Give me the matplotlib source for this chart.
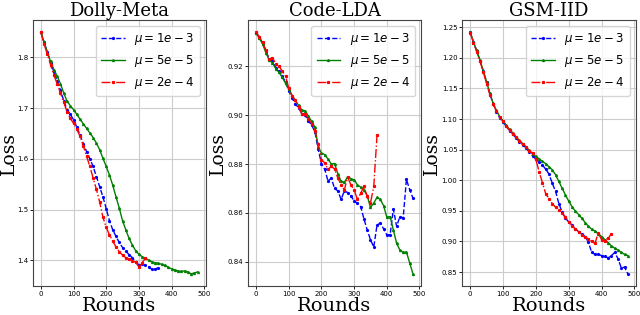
import numpy as np
import matplotlib
matplotlib.use("Agg")
import matplotlib.pyplot as plt

# ---------------- data ----------------
dolly_rounds_blue = list(range(0, 370, 10))
dolly_blue = [1.850, 1.830, 1.810, 1.790, 1.771, 1.754, 1.735, 1.715, 1.697, 1.688,
              1.677, 1.663, 1.647, 1.630, 1.614, 1.600, 1.585, 1.565, 1.545, 1.525,
              1.502, 1.478, 1.460, 1.447, 1.435, 1.425, 1.418, 1.411, 1.405, 1.397,
              1.391, 1.393, 1.390, 1.387, 1.382, 1.383, 1.385]
dolly_rounds_green = list(range(0, 490, 10))
dolly_green = [1.850, 1.830, 1.809, 1.792, 1.776, 1.763, 1.748, 1.730, 1.714, 1.705,
               1.697, 1.688, 1.678, 1.669, 1.660, 1.651, 1.642, 1.631, 1.618, 1.601,
               1.585, 1.568, 1.548, 1.525, 1.503, 1.478, 1.460, 1.443, 1.430, 1.419,
               1.412, 1.407, 1.404, 1.400, 1.397, 1.395, 1.394, 1.392, 1.390, 1.386,
               1.383, 1.381, 1.379, 1.378, 1.379, 1.377, 1.373, 1.375, 1.377]
dolly_rounds_red = list(range(0, 330, 10))
dolly_red = [1.850, 1.826, 1.806, 1.785, 1.765, 1.748, 1.730, 1.712, 1.693, 1.680,
             1.670, 1.658, 1.645, 1.625, 1.605, 1.585, 1.562, 1.540, 1.515, 1.485,
             1.465, 1.450, 1.438, 1.426, 1.417, 1.410, 1.405, 1.402, 1.399, 1.396,
             1.387, 1.395, 1.404]

code_rounds_blue = list(range(0, 490, 10))
code_blue = [0.9336, 0.9318, 0.9295, 0.9262, 0.9228, 0.9222, 0.9195, 0.9180, 0.9160, 0.9135,
             0.9100, 0.9070, 0.9045, 0.9030, 0.9005, 0.9000, 0.8975, 0.8960, 0.8930, 0.8860,
             0.8800, 0.8778, 0.8730, 0.8742, 0.8700, 0.8690, 0.8655, 0.8690, 0.8683, 0.8670,
             0.8648, 0.8640, 0.8625, 0.8575, 0.8530, 0.8490, 0.8460, 0.8550, 0.8558, 0.8535,
             0.8510, 0.8510, 0.8615, 0.8545, 0.8585, 0.8578, 0.8737, 0.8695, 0.8660]
code_rounds_green = list(range(0, 490, 10))
code_green = [0.9336, 0.9315, 0.9290, 0.9255, 0.9225, 0.9215, 0.9190, 0.9175, 0.9155, 0.9130,
              0.9105, 0.9080, 0.9060, 0.9040, 0.9020, 0.9018, 0.8995, 0.8975, 0.8950, 0.8870,
              0.8845, 0.8838, 0.8820, 0.8800, 0.8802, 0.8760, 0.8730, 0.8725, 0.8748, 0.8740,
              0.8735, 0.8715, 0.8705, 0.8694, 0.8670, 0.8622, 0.8640, 0.8664, 0.8655, 0.8630,
              0.8582, 0.8585, 0.8530, 0.8475, 0.8448, 0.8438, 0.8440, 0.8395, 0.8350]
code_rounds_red = list(range(0, 380, 10))
code_red = [0.9340, 0.9320, 0.9298, 0.9265, 0.9230, 0.9235, 0.9210, 0.9200, 0.9180, 0.9160,
            0.9110, 0.9080, 0.9060, 0.9035, 0.9005, 0.9005, 0.8985, 0.8965, 0.8935, 0.8880,
            0.8818, 0.8804, 0.8778, 0.8790, 0.8780, 0.8743, 0.8715, 0.8694, 0.8746, 0.8715,
            0.8694, 0.8655, 0.8680, 0.8708, 0.8667, 0.8640, 0.8708, 0.8918]

gsm_rounds_blue = list(range(0, 490, 10))
gsm_blue = [1.242, 1.226, 1.211, 1.195, 1.178, 1.160, 1.141, 1.125, 1.112, 1.102,
            1.095, 1.088, 1.081, 1.075, 1.069, 1.063, 1.058, 1.053, 1.046, 1.040,
            1.034, 1.030, 1.025, 1.018, 1.010, 0.995, 0.982, 0.962, 0.948, 0.938,
            0.932, 0.927, 0.921, 0.916, 0.912, 0.908, 0.899, 0.882, 0.879, 0.879,
            0.877, 0.876, 0.873, 0.877, 0.882, 0.872, 0.857, 0.858, 0.847]
gsm_rounds_green = list(range(0, 490, 10))
gsm_green = [1.242, 1.226, 1.212, 1.196, 1.179, 1.161, 1.142, 1.126, 1.114, 1.104,
             1.097, 1.090, 1.083, 1.077, 1.071, 1.065, 1.060, 1.055, 1.049, 1.043,
             1.039, 1.035, 1.031, 1.027, 1.022, 1.017, 1.009, 0.998, 0.987, 0.976,
             0.966, 0.957, 0.950, 0.944, 0.938, 0.931, 0.925, 0.920, 0.917, 0.913,
             0.908, 0.903, 0.898, 0.893, 0.889, 0.886, 0.882, 0.879, 0.877]
gsm_rounds_red = list(range(0, 440, 10))
gsm_red = [1.241, 1.225, 1.210, 1.194, 1.177, 1.158, 1.140, 1.124, 1.113, 1.103,
           1.096, 1.089, 1.082, 1.076, 1.070, 1.064, 1.059, 1.054, 1.048, 1.044,
           1.034, 1.014, 0.996, 0.978, 0.970, 0.962, 0.956, 0.951, 0.946, 0.940,
           0.932, 0.926, 0.920, 0.915, 0.910, 0.907, 0.904, 0.900, 0.897, 0.914,
           0.903, 0.901, 0.906, 0.912]

titles = ["Dolly-Meta", "Code-LDA", "GSM-IID"]
labels = [r"$\mu=1e-3$", r"$\mu=5e-5$", r"$\mu=2e-4$"]
xticks = [0, 100, 200, 300, 400, 500]
yticks = [[1.4, 1.5, 1.6, 1.7, 1.8],
          [0.84, 0.86, 0.88, 0.90, 0.92],
          [0.85, 0.90, 0.95, 1.00, 1.05, 1.10, 1.15, 1.20, 1.25]]
yfmt = ["%.1f", "%.2f", "%.2f"]

panels = [
    [(dolly_rounds_blue, dolly_blue), (dolly_rounds_green, dolly_green), (dolly_rounds_red, dolly_red)],
    [(code_rounds_blue, code_blue), (code_rounds_green, code_green), (code_rounds_red, code_red)],
    [(gsm_rounds_blue, gsm_blue), (gsm_rounds_green, gsm_green), (gsm_rounds_red, gsm_red)],
]

styles = [dict(color="blue", linestyle="--", marker="o", markersize=1.3),
          dict(color="green", linestyle="-", marker="^", markersize=1.4),
          dict(color="red", linestyle="-.", marker="s", markersize=1.3)]

fig = plt.figure(figsize=(6.4, 3.15), dpi=100)
lefts = [0.0516, 0.388, 0.7223]
widths = [0.2695, 0.2695, 0.271]
ylabel_x = [-0.088, -0.125, -0.12]
for i in range(3):
    ax = fig.add_axes([lefts[i], 0.092, widths[i], 0.8445])
    for (x, y), st, lab in zip(panels[i], styles, labels):
        ax.plot(x, y, linewidth=1.0, label=lab, **st)
    ax.set_title(titles[i], family="DejaVu Serif", fontsize=13, pad=3)
    ax.set_xlabel("Rounds", family="DejaVu Serif", fontsize=14, labelpad=0)
    ax.set_ylabel("Loss", family="DejaVu Serif", fontsize=13.5)
    ax.yaxis.set_label_coords(ylabel_x[i], 0.5)
    ax.set_xticks(xticks)
    ax.set_yticks(yticks[i])
    ax.yaxis.set_major_formatter(matplotlib.ticker.FormatStrFormatter(yfmt[i]))
    ax.tick_params(labelsize=5, length=2, width=0.6, pad=1.5)
    ax.grid(True, color="#cccccc", linewidth=0.8)
    for s in ax.spines.values():
        s.set_color("#444444")
    ax.legend(loc="upper right", fontsize=8.5, handlelength=2.0, borderpad=0.45,
              labelspacing=0.5, handletextpad=0.8)

fig.savefig("out.png", dpi=100)
